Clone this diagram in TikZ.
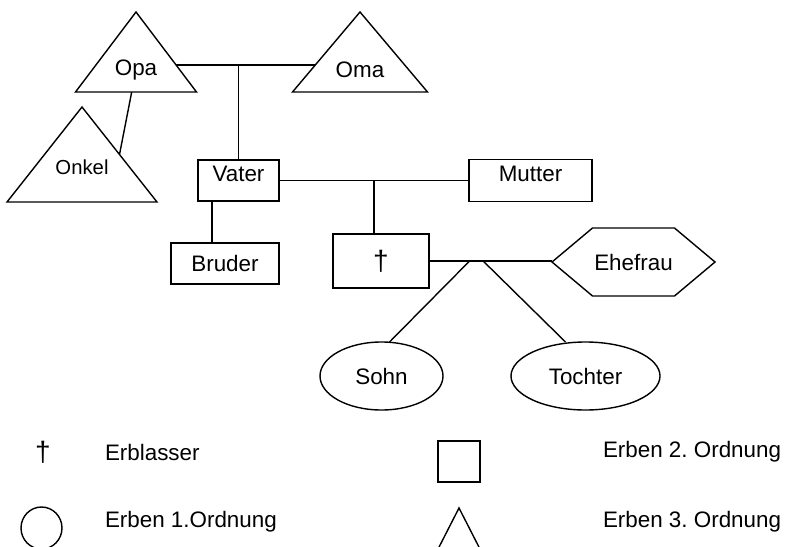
\documentclass[tikz,border=0pt]{standalone}
\usepackage{fontspec}
\setmainfont{Liberation Sans}
\usetikzlibrary{shapes.geometric,shapes.symbols,calc}
\frenchspacing

\begin{document}
\begin{tikzpicture}[x=1pt, y=-1pt, font=\fontsize{22.4}{26}\selectfont, line width=1.4pt,
        every node/.style={inner sep=0pt, outer sep=0pt},
        erbe3/.style={draw, isosceles triangle, isosceles triangle stretches, shape border rotate=90, anchor=apex},
        erbe2/.style={draw, rectangle},
        erbe1/.style={draw, ellipse},
        gatte/.style={draw, signal, signal to=west and east, signal pointer angle=80},
        kreuz/.style={font=\fontsize{28}{30}\selectfont},
        legtext/.style={anchor=west}]
    \useasboundingbox (0,0) rectangle (786,546);
    % Grosseltern und Onkel
    \node[erbe3, minimum width=121pt, minimum height=80pt] (opa) at (136,12) {Opa};
    \node[erbe3, minimum width=135pt, minimum height=80pt] (oma) at (360,12) {Oma};
    \node[erbe3, minimum width=150pt, minimum height=95pt, font=\fontsize{20.3}{24}\selectfont] (onkel) at (82,107) {\raisebox{16pt}{Onkel}};
    % Eltern und Geschwister
    \node[erbe2, minimum width=81pt, minimum height=41pt, text depth=14pt] (vater) at (238.5,180.5) {Vater};
    \node[erbe2, minimum width=123pt, minimum height=42pt, text depth=14pt] (mutter) at (530.5,180.5) {Mutter};
    \node[erbe2, minimum width=108pt, minimum height=41pt] (bruder) at (225,263.5) {Bruder};
    % Erblasser, Ehefrau, Kinder
    \node[erbe2, kreuz, minimum width=96pt, minimum height=54pt] (erbl) at (381,261) {†};
    \node[gatte, minimum width=163pt, minimum height=68pt] (frau) at (633.5,262) {Ehefrau};
    \node[erbe1, minimum width=123pt, minimum height=68pt] (sohn) at (381.5,376) {Sohn};
    \node[erbe1, minimum width=149pt, minimum height=68pt] (tochter) at (585.5,376) {Tochter};

    \draw ($(opa.apex)!0.6625!(opa.right corner)$) -- ($(oma.apex)!0.6625!(oma.left corner)$) coordinate[pos=0.44] (oo);
    \draw (opa) -- (onkel.right side);
    \draw (vater) -- (vater |- oo);
    \draw (vater) -- coordinate (vm) (mutter);
    \draw (vm) -- (vm |- erbl.north);
    \draw ([xshift=-26.5pt]vater.south) -- ([xshift=-26.5pt]vater.south |- bruder.north);
    \draw (erbl) -- coordinate[pos=0.33] (k1) coordinate[pos=0.44] (k2) (erbl -| frau.west);
    \draw (k1) -- ([xshift=8pt]sohn.north);
    \draw (k2) -- ([xshift=-20pt]tochter.north);

    % Legende
    \node[kreuz] (lkreuz) at (43,452) {†};
    \node[legtext] (lerbl) at (105,452) {Erblasser};
    \node[erbe2, minimum width=42pt, minimum height=41pt] (lbox) at (459,461.5) {};
    \node[legtext] (lzwei) at (603,452) {Erben 2. Ordnung};
    \node[erbe1, minimum width=41pt, minimum height=42pt] (lkreis) at (41.5,528) {};
    \node[legtext] (leins) at (105,522) {Erben 1.Ordnung};
    \node[erbe3, minimum width=44pt, minimum height=43pt] (ldreieck) at (459,508) {};
    \node[legtext] (ldrei) at (603,522) {Erben 3. Ordnung};
\end{tikzpicture}
\end{document}
